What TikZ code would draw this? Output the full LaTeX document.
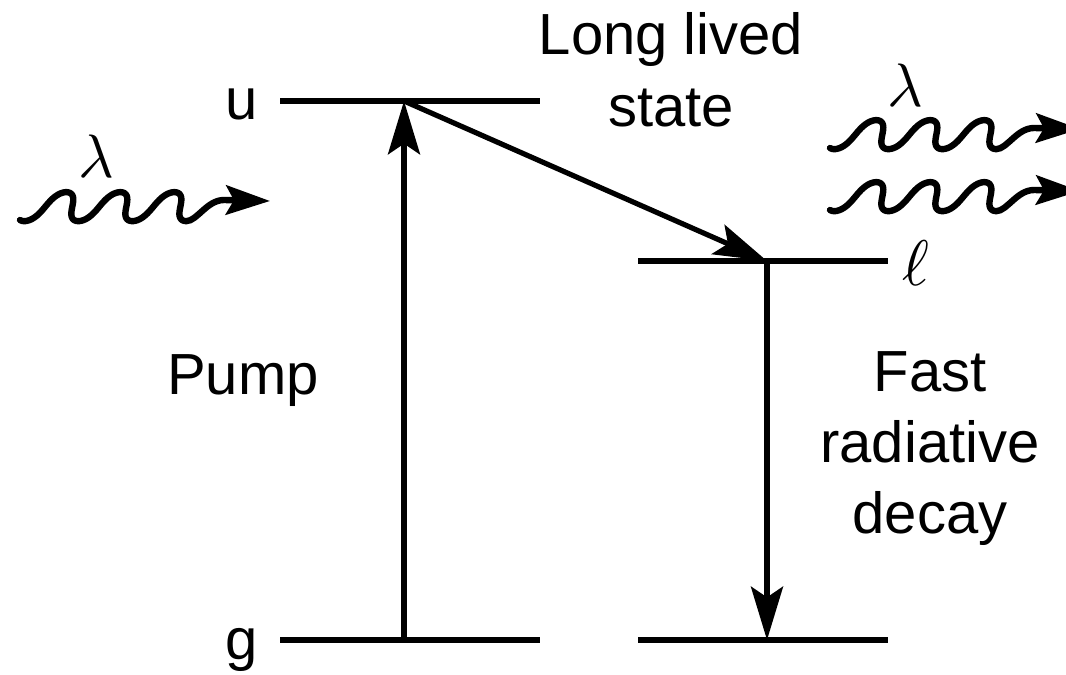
\documentclass[tikz,border=0pt]{standalone}
\usepackage{fontspec}
\setmainfont{Liberation Sans}
\usetikzlibrary{arrows.meta}
\tikzset{
  photon/.pic={
    \draw[line width=4.8pt, line cap=round, -{Stealth[length=33pt,width=22pt,inset=6pt]}]
      plot[samples=160, domain=-0.4:18.85, variable=\t]
        ({8.6*\t - 7.5*cos(\t r) + 2*sin(2*\t r) + 11.78}, {-14.5*cos(\t r) + 13.36})
      .. controls (177,-1) and (187,20) .. (204,20) -- (250,19);
  }
}
\begin{document}
\begin{tikzpicture}[x=0.75pt,y=0.75pt,
  level/.style={line width=3.9pt},
  trans/.style={line width=3.9pt, -{Stealth[length=40pt,width=24pt,inset=8pt]}},
  lab/.style={font=\fontsize{43.5}{50}\selectfont, inner sep=0pt, anchor=base},
  greek/.style={inner sep=0pt, scale=4.6}]
\clip (0,0) rectangle (1066,-674);
% level end points
\coordinate (uL) at (280,-101);
\coordinate (uR) at (540,-101);
\coordinate (gL) at (280,-640);
\coordinate (gR) at (540,-640);
\coordinate (g2L) at (638,-640);
\coordinate (g2R) at (888,-640);
\coordinate (lL) at (638,-261);
\coordinate (lR) at (888,-261);
\coordinate (pumpB) at (404,-640);
\coordinate (pumpT) at (404,-101);
\coordinate (lTop) at (767,-261);
\coordinate (lBot) at (767,-640);
% levels
\draw[level] (uL) -- (uR);
\draw[level] (gL) -- (gR);
\draw[level] (g2L) -- (g2R);
\draw[level] (lL) -- (lR);
% transitions
\draw[trans] (pumpB) -- (pumpT);
\draw[trans] (pumpT) -- (lTop);
\draw[trans] (lTop) -- (lBot);
% labels
\node[lab] (u) at (242,-119) {u};
\node[lab] (g) at (242,-659) {g};
\node[lab] (pump) at (243,-394) {Pump};
\node[lab] (long) at (671,-55) {Long lived};
\node[lab] (state) at (671,-126) {state};
\node[lab] (fast) at (930,-391) {Fast};
\node[lab] (rad) at (930,-462) {radiative};
\node[lab] (dec) at (930,-533) {decay};
\node[greek, scale=1.05] (ell) at (916,-263) {$\ell$};
\node[greek] (lam1) at (96,-156) {$\lambda$};
\node[greek] (lam2) at (905,-85) {$\lambda$};
% photons
\pic (w1) at (20,-220) {photon};
\pic (w2) at (830,-148) {photon};
\pic (w3) at (830,-210) {photon};
\end{tikzpicture}
\end{document}
